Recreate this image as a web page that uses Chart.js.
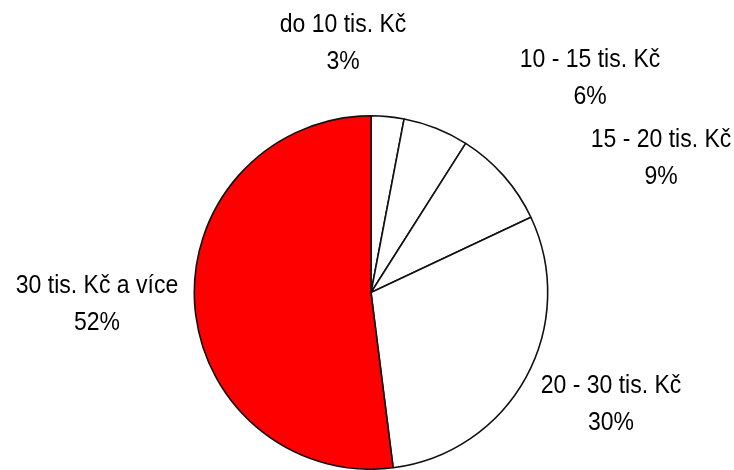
<!DOCTYPE html>
<html>
<head>
<meta charset="utf-8">
<script src="https://cdn.jsdelivr.net/npm/chart.js@4"></script>
<style>
  html, body { margin: 0; padding: 0; background: #fff; }
  #wrap { width: 734px; height: 470px; position: relative; }
</style>
</head>
<body>
<div id="wrap"><canvas id="pieChart" width="734" height="470"></canvas></div>
<script>
const categories = ["do 10 tis. Kč", "10 - 15 tis. Kč", "15 - 20 tis. Kč", "20 - 30 tis. Kč", "30 tis. Kč a více"];
const shares = [3, 6, 9, 30, 52];
const sliceColors = ["#ffffff", "#ffffff", "#ffffff", "#ffffff", "#ff0000"];

// where each label sits, relative to the pie centre (Excel-style placement)
const labelOffsets = [
  { dx: -28, dy: -249 },
  { dx: 219, dy: -214 },
  { dx: 290, dy: -134 },
  { dx: 240, dy: 112 },
  { dx: -274, dy: 12 }
];

const outsideLabels = {
  id: 'outsideLabels',
  afterDraw(chart) {
    const ctx = chart.ctx;
    const meta = chart.getDatasetMeta(0);
    const arc0 = meta.data[0];
    const cx = arc0.x, cy = arc0.y;
    const sy = 1.1;
    ctx.save();
    ctx.font = '23px "Liberation Sans", Arial, sans-serif';
    ctx.fillStyle = '#000';
    ctx.textAlign = 'center';
    ctx.textBaseline = 'middle';
    meta.data.forEach((arc, i) => {
      const off = labelOffsets[i];
      const x = cx + off.dx, y = cy + off.dy;
      ctx.save();
      ctx.translate(x, y);
      ctx.scale(1, sy);
      ctx.fillText(categories[i], 0, -18 / sy);
      ctx.fillText(shares[i] + '%', 0, 19 / sy);
      ctx.restore();
    });
    ctx.restore();
  }
};

new Chart(document.getElementById('pieChart').getContext('2d'), {
  type: 'pie',
  data: {
    labels: categories,
    datasets: [{
      data: shares,
      backgroundColor: sliceColors,
      borderColor: '#111',
      borderWidth: 1.6
    }]
  },
  options: {
    responsive: false,
    animation: false,
    layout: { padding: { top: 115, bottom: -2, left: 193, right: 185 } },
    plugins: {
      legend: { display: false },
      tooltip: { enabled: false }
    }
  },
  plugins: [outsideLabels]
});
</script>
</body>
</html>
